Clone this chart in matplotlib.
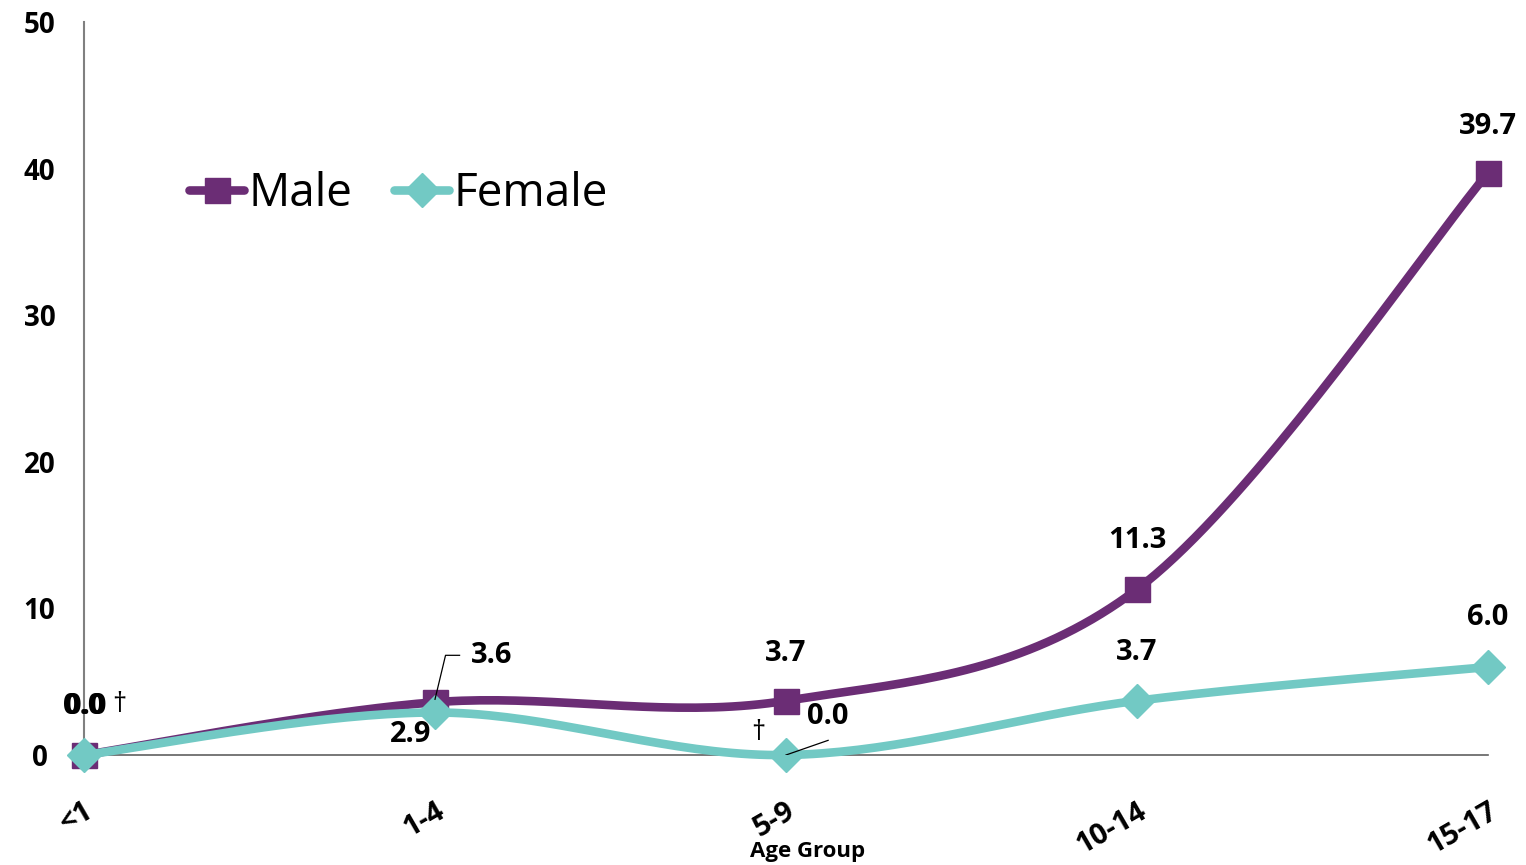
import numpy as np
import matplotlib.pyplot as plt

# data
age_groups = ['<1', '1-4', '5-9', '10-14', '15-17']
male = [0.0, 3.6, 3.7, 11.3, 39.7]
female = [0.0, 2.9, 0.0, 3.7, 6.0]

purple = '#6B2D75'
teal = '#72C9C4'

plt.rcParams['font.family'] = ['Open Sans', 'DejaVu Sans']


def smooth(xs, ys, n=40):
    # Excel-style smoothed line (Catmull-Rom bezier through the points)
    xs = np.asarray(xs, float)
    ys = np.asarray(ys, float)
    px = np.concatenate([[xs[0]], xs, [xs[-1]]])
    py = np.concatenate([[ys[0]], ys, [ys[-1]]])
    outx, outy = [], []
    t = np.linspace(0, 1, n)
    for i in range(1, len(px) - 2):
        p0 = np.array([px[i], py[i]])
        p3 = np.array([px[i + 1], py[i + 1]])
        c1 = p0 + (np.array([px[i + 1], py[i + 1]]) - np.array([px[i - 1], py[i - 1]])) / 6
        c2 = p3 - (np.array([px[i + 2], py[i + 2]]) - np.array([px[i], py[i]])) / 6
        b = ((1 - t) ** 3)[:, None] * p0 + (3 * (1 - t) ** 2 * t)[:, None] * c1 \
            + (3 * (1 - t) * t ** 2)[:, None] * c2 + (t ** 3)[:, None] * p3
        outx.extend(b[:, 0])
        outy.extend(b[:, 1])
    return outx, outy


fig = plt.figure(figsize=(15.26, 8.65), dpi=100)
ax = fig.add_axes([84 / 1526, 1 - 755 / 865, (1488 - 84) / 1526, (755 - 22) / 865])

x = np.arange(len(age_groups))

sx, sy = smooth(x, male)
ax.plot(sx, sy, color=purple, lw=6.2, solid_capstyle='round', zorder=3, clip_on=False)
ax.plot(x, male, ls='none', marker='s', ms=18, color=purple, zorder=4, clip_on=False)
sx, sy = smooth(x, female)
ax.plot(sx, sy, color=teal, lw=6.2, solid_capstyle='round', zorder=5, clip_on=False)
ax.plot(x, female, ls='none', marker='D', ms=17, color=teal, zorder=6, clip_on=False)

# legend proxies
ax.plot([], [], color=purple, lw=6.2, marker='s', ms=18, solid_capstyle='round', label='Male')
ax.plot([], [], color=teal, lw=6.2, marker='D', ms=17, solid_capstyle='round', label='Female')
leg = ax.legend(loc='center left', bbox_to_anchor=(0.075, 0.765), ncol=2, frameon=False,
                fontsize=33, handlelength=1.2, handletextpad=0.1, columnspacing=0.9,
                borderaxespad=0, borderpad=0)

ax.set_xlim(0, 4)
ax.set_ylim(0, 50)
ax.set_yticks(range(0, 51, 10))
ax.set_xticks(x)
ax.set_xticklabels(age_groups, rotation=30, ha='right', rotation_mode='anchor')
ax.tick_params(axis='both', length=0, labelsize=20)
ax.tick_params(axis='x', labelsize=21, pad=30)
ax.tick_params(axis='y', pad=32)
for lab in ax.get_xticklabels() + ax.get_yticklabels():
    lab.set_fontweight('bold')
for lab in ax.get_yticklabels():
    lab.set_horizontalalignment('center')

for s in ['top', 'right']:
    ax.spines[s].set_visible(False)
ax.spines['left'].set_color('#808080')
ax.spines['left'].set_linewidth(1.5)
ax.spines['bottom'].set_color('#606060')
ax.spines['bottom'].set_linewidth(1.2)
ax.spines['bottom'].set_zorder(2)

fig.text(808 / 1526, 1 - 851 / 865, 'Age Group', ha='center', va='center',
         fontsize=16, fontweight='bold')

lab = dict(fontsize=21, fontweight='bold', ha='center', va='center', zorder=7)
# male labels
ax.text(0, 3.3, '0.0', **lab)
ax.text(0.004, 3.3, '0.0', **lab)
ax.text(4, 42.9, f'{male[4]:.1f}', **lab)
ax.text(3, 14.6, f'{male[3]:.1f}', **lab)
ax.text(2, 6.9, f'{male[2]:.1f}', **lab)
ax.text(1.16, 6.8, f'{male[1]:.1f}', **lab)
ax.plot([1.0, 1.03, 1.07], [3.8, 6.8, 6.8], color='black', lw=0.9, zorder=7)
# female labels
ax.text(0.1, 3.4, '†', fontsize=20, ha='center', va='center', zorder=7)
ax.text(0.93, 1.4, f'{female[1]:.1f}', **lab)
ax.text(2.12, 2.6, f'{female[2]:.1f}', **lab)
ax.plot([2.0, 2.12], [0.0, 1.0], color='black', lw=0.9, zorder=7)
ax.text(1.92, 1.5, '†', fontsize=20, ha='center', va='center', zorder=7)
ax.text(3, 7.0, f'{female[3]:.1f}', **lab)
ax.text(4, 9.4, f'{female[4]:.1f}', **lab)

fig.savefig('out.png', dpi=100)
